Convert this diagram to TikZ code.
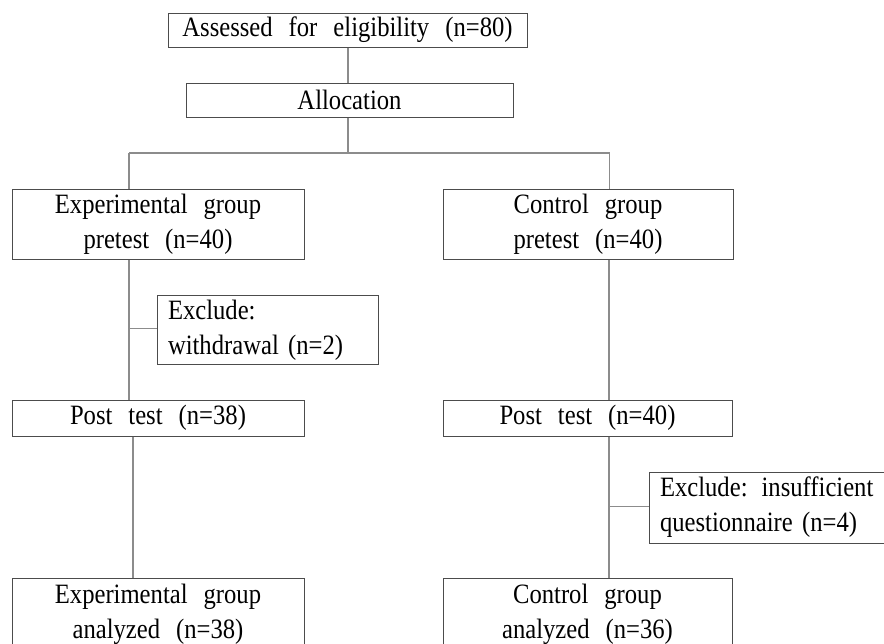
\documentclass[tikz,border=0pt]{standalone}
\usepackage{fontspec}
\setmainfont{Liberation Serif}[WordSpace=2.6,FakeStretch=0.88]
\begin{document}
\begin{tikzpicture}[x=1pt,y=-1pt,
  box/.style={draw=black!70,line width=1pt,inner sep=0pt,font=\fontsize{28}{35}\selectfont},
  cbox/.style={box,align=center},
  conn/.style={draw=black!45,line width=1.2pt}]
\useasboundingbox (0,0) rectangle (884,643);
% boxes
\node[cbox,minimum width=359pt,minimum height=34pt] (elig) at (347.5,30) {Assessed for eligibility (n=80)};
\node[cbox,minimum width=327pt,minimum height=34pt] (alloc) at (349.5,100) {Allocation};
\node[cbox,minimum width=292pt,minimum height=70pt] (exppre) at (158,224) {Experimental group\\pretest (n=40)};
\node[cbox,minimum width=290pt,minimum height=70pt] (conpre) at (588,224) {Control group\\pretest (n=40)};
\node[box,minimum width=221pt,minimum height=69pt,align=left,text width=199pt] (exc1) at (267.5,330) {Exclude:\\withdrawal (n=2)};
\node[cbox,minimum width=292pt,minimum height=36pt] (exppost) at (158,418) {Post test (n=38)};
\node[cbox,minimum width=289pt,minimum height=36pt] (conpost) at (587.5,418) {Post test (n=40)};
\node[box,minimum width=250pt,minimum height=71pt,align=left,text width=228pt] (exc2) at (774,507.5) {Exclude: insufficient\\questionnaire (n=4)};
\node[cbox,minimum width=292pt,minimum height=72pt] (expan) at (158,614) {Experimental group\\analyzed (n=38)};
\node[cbox,minimum width=289pt,minimum height=72pt] (conan) at (587.5,614) {Control group\\analyzed (n=36)};
% junctions
\coordinate (split) at (348,153);
\coordinate (sl) at (129,153);
\coordinate (sr) at (609.5,153);
\coordinate (j1) at (129,328.5);
\coordinate (j2) at (609,506.5);
\coordinate (j3) at (133,500);
% connectors
\draw[conn] (elig.south -| split) -- (alloc.north -| split);
\draw[conn] (alloc.south -| split) -- (split);
\draw[conn] (sl) -- (sr);
\draw[conn] (sl) -- (exppre.north -| sl);
\draw[conn] (sr) -- (conpre.north -| sr);
\draw[conn] (exppre.south -| j1) -- (exppost.north -| j1);
\draw[conn] (j1) -- (exc1.west |- j1);
\draw[conn] (exppost.south -| j3) -- (expan.north -| j3);
\draw[conn] (conpre.south -| j2) -- (conpost.north -| j2);
\draw[conn] (conpost.south -| j2) -- (conan.north -| j2);
\draw[conn] (j2) -- (exc2.west |- j2);
\end{tikzpicture}
\end{document}
